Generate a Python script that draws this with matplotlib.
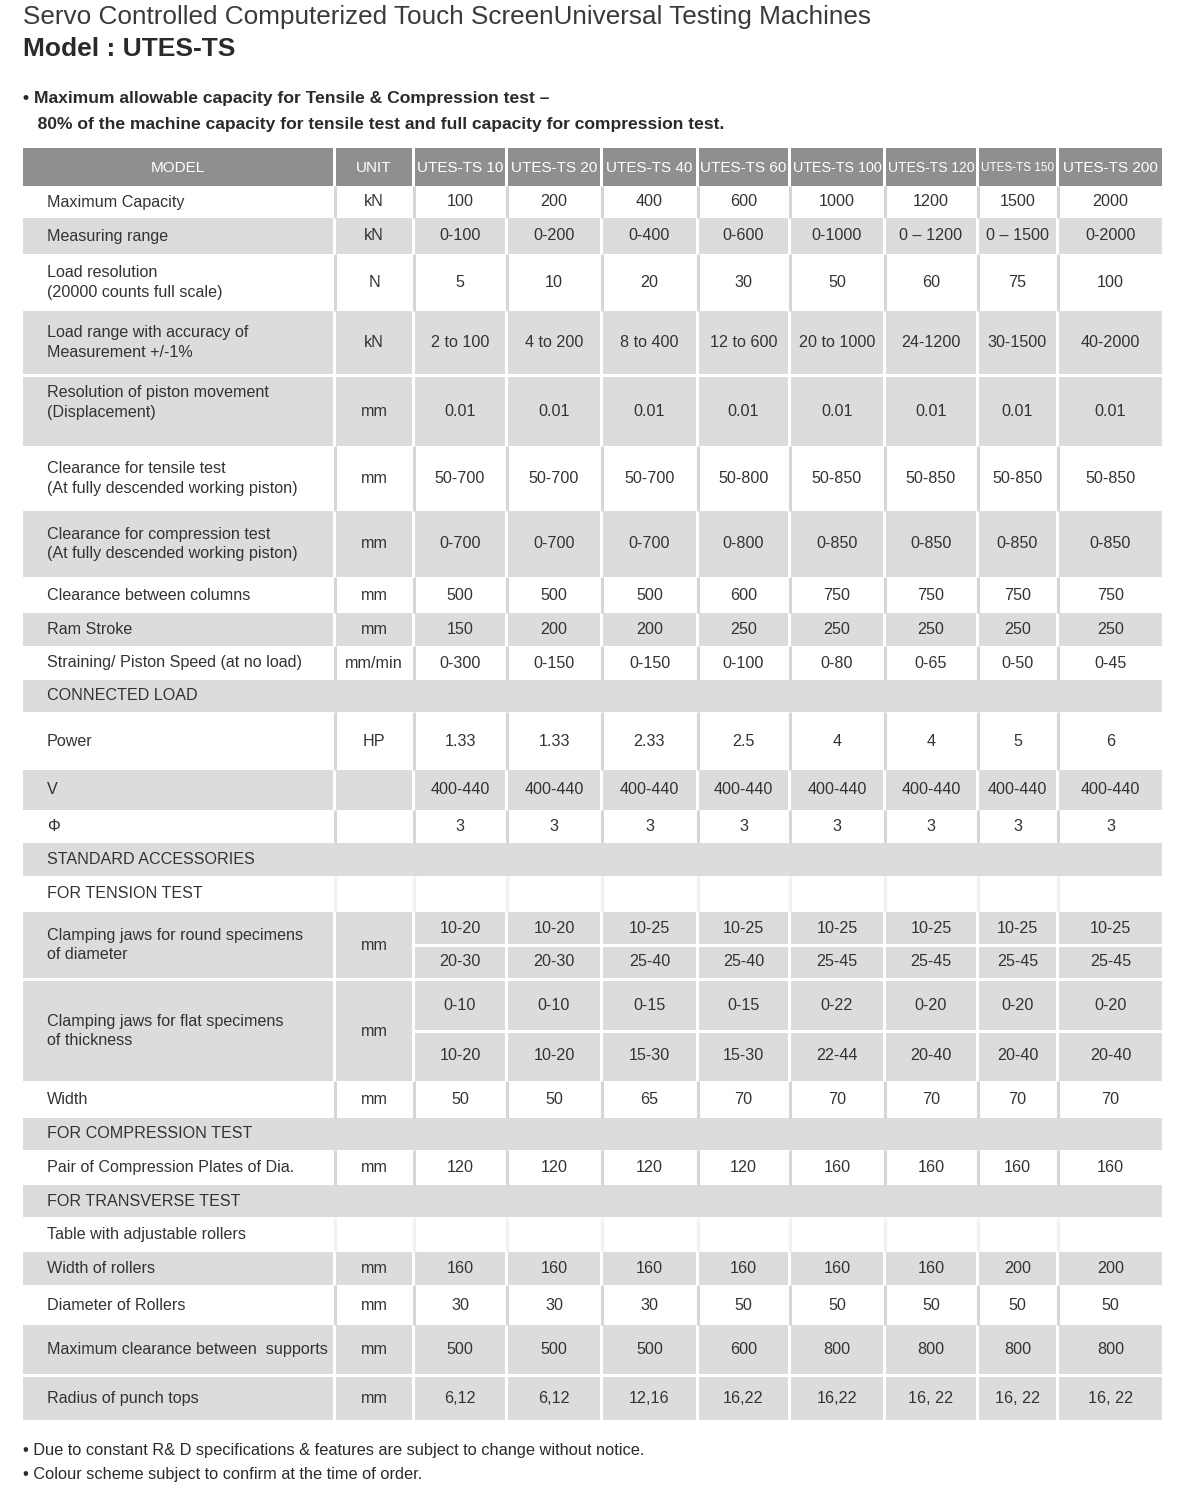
"""Spec sheet table: UTES-TS servo controlled universal testing machines."""

import matplotlib

matplotlib.use("Agg")
import matplotlib.pyplot as plt
from matplotlib.patches import Rectangle

plt.rcParams["font.family"] = ["Liberation Sans", "DejaVu Sans"]

TITLE = "Servo Controlled Computerized Touch ScreenUniversal Testing Machines"
SUBTITLE = "Model : UTES-TS"
NOTE_LINES = [
    "\u2022 Maximum allowable capacity for Tensile & Compression test \u2013",
    "   80% of the machine capacity for tensile test and full capacity for compression test.",
]
FOOTER_LINES = [
    "\u2022 Due to constant R& D specifications & features are subject to change without notice.",
    "\u2022 Colour scheme subject to confirm at the time of order.",
]

models = ["UTES-TS 10", "UTES-TS 20", "UTES-TS 40", "UTES-TS 60",
          "UTES-TS 100", "UTES-TS 120", "UTES-TS 150", "UTES-TS 200"]

max_capacity = ["100", "200", "400", "600", "1000", "1200", "1500", "2000"]
measuring_range = ["0-100", "0-200", "0-400", "0-600", "0-1000",
                   "0 \u2013 1200", "0 \u2013 1500", "0-2000"]
load_resolution = ["5", "10", "20", "30", "50", "60", "75", "100"]
accuracy_range = ["2 to 100", "4 to 200", "8 to 400", "12 to 600",
                  "20 to 1000", "24-1200", "30-1500", "40-2000"]
piston_resolution = ["0.01", "0.01", "0.01", "0.01", "0.01", "0.01", "0.01", "0.01"]
tensile_clearance = ["50-700", "50-700", "50-700", "50-800",
                     "50-850", "50-850", "50-850", "50-850"]
compression_clearance = ["0-700", "0-700", "0-700", "0-800",
                         "0-850", "0-850", "0-850", "0-850"]
column_clearance = ["500", "500", "500", "600", "750", "750", "750", "750"]
ram_stroke = ["150", "200", "200", "250", "250", "250", "250", "250"]
piston_speed = ["0-300", "0-150", "0-150", "0-100", "0-80", "0-65", "0-50", "0-45"]
power_hp = ["1.33", "1.33", "2.33", "2.5", "4", "4", "5", "6"]
voltage = ["400-440", "400-440", "400-440", "400-440",
           "400-440", "400-440", "400-440", "400-440"]
phase = ["3", "3", "3", "3", "3", "3", "3", "3"]
round_jaws_small = ["10-20", "10-20", "10-25", "10-25", "10-25", "10-25", "10-25", "10-25"]
round_jaws_large = ["20-30", "20-30", "25-40", "25-40", "25-45", "25-45", "25-45", "25-45"]
flat_jaws_thin = ["0-10", "0-10", "0-15", "0-15", "0-22", "0-20", "0-20", "0-20"]
flat_jaws_thick = ["10-20", "10-20", "15-30", "15-30", "22-44", "20-40", "20-40", "20-40"]
jaw_width = ["50", "50", "65", "70", "70", "70", "70", "70"]
compression_plates = ["120", "120", "120", "120", "160", "160", "160", "160"]
roller_width = ["160", "160", "160", "160", "160", "160", "200", "200"]
roller_diameter = ["30", "30", "30", "50", "50", "50", "50", "50"]
support_clearance = ["500", "500", "500", "600", "800", "800", "800", "800"]
punch_radius = ["6,12", "6,12", "12,16", "16,22", "16,22", "16, 22", "16, 22", "16, 22"]

# (kind, label, unit, values, top, bottom, shaded)
rows = [
    ("row", "Maximum Capacity", "kN", max_capacity, 186, 218, False),
    ("row", "Measuring range", "kN", measuring_range, 218, 254, True),
    ("row", "Load resolution\n(20000 counts full scale)", "N", load_resolution, 254, 311, False),
    ("row", "Load range with accuracy of\nMeasurement +/-1%", "kN", accuracy_range, 311, 374, True),
    ("row", "Resolution of piston movement\n(Displacement)", "mm", piston_resolution, 377, 446, True),
    ("row", "Clearance for tensile test\n(At fully descended working piston)", "mm",
     tensile_clearance, 446, 511, False),
    ("row", "Clearance for compression test\n(At fully descended working piston)", "mm",
     compression_clearance, 511, 577, True),
    ("row", "Clearance between columns", "mm", column_clearance, 577, 613, False),
    ("row", "Ram Stroke", "mm", ram_stroke, 613, 646, True),
    ("row", "Straining/ Piston Speed (at no load)", "mm/min", piston_speed, 646, 680, False),
    ("section", "CONNECTED LOAD", "", None, 680, 712, True),
    ("row", "Power", "HP", power_hp, 712, 770, False),
    ("row", "V", "", voltage, 770, 810, True),
    ("row", "\u03a6", "", phase, 810, 843, False),
    ("section", "STANDARD ACCESSORIES", "", None, 843, 876, True),
    ("section", "FOR TENSION TEST", "", None, 876, 912, False),
    ("split", "Clamping jaws for round specimens\nof diameter", "mm",
     (round_jaws_small, round_jaws_large), 912, 978, True),
    ("split", "Clamping jaws for flat specimens\nof thickness", "mm",
     (flat_jaws_thin, flat_jaws_thick), 981, 1081, True),
    ("row", "Width", "mm", jaw_width, 1081, 1118, False),
    ("section", "FOR COMPRESSION TEST", "", None, 1118, 1150, True),
    ("row", "Pair of Compression Plates of Dia.", "mm", compression_plates, 1150, 1185, False),
    ("section", "FOR TRANSVERSE TEST", "", None, 1185, 1217, True),
    ("section", "Table with adjustable rollers", "", None, 1217, 1252, False),
    ("row", "Width of rollers", "mm", roller_width, 1252, 1285, True),
    ("row", "Diameter of Rollers", "mm", roller_diameter, 1285, 1325, False),
    ("row", "Maximum clearance between  supports", "mm", support_clearance, 1325, 1374, True),
    ("row", "Radius of punch tops", "mm", punch_radius, 1377, 1420, True),
]

# cell edges in pixels: model, unit, then the eight machines
col_left = [23, 336, 415, 508, 603, 699, 791, 886, 979, 1059]
col_right = [333, 412, 505, 600, 696, 788, 883, 976, 1056, 1162]
split_at = {912: 945, 981: 1031}

HEADER_TOP, HEADER_BOTTOM = 148, 186
SHADE = "#dcdcdd"
HEADER = "#8f8f8f"
RULE = "#d6d6d6"
INK = "#333333"
LABEL_X = 47
FS = 11.6

fig = plt.figure(figsize=(11.84, 15), dpi=100)
ax = fig.add_axes([0, 0, 1, 1])
ax.set_xlim(0, 1184)
ax.set_ylim(1500, 0)
ax.axis("off")


def cell(x0, x1, y0, y1, color):
    ax.add_patch(Rectangle((x0, y0), x1 - x0, y1 - y0, facecolor=color,
                           edgecolor="none", zorder=1))


def rules(y0, y1, color):
    for r, l in zip(col_right[:-1], col_left[1:]):
        xm = (r + l) / 2
        ax.plot([xm, xm], [y0, y1], color=color, lw=2.2, solid_capstyle="butt", zorder=2)


ax.text(23, 17, TITLE, fontsize=18.8, color="#3a3a3a", va="center", ha="left")
ax.text(23, 49, SUBTITLE, fontsize=19, color="#2a2a2a", va="center", ha="left",
        fontweight="bold")
for i, line in enumerate(NOTE_LINES):
    ax.text(23, 99 + 25 * i, line, fontsize=12.6, color="#2a2a2a", va="center",
            ha="left", fontweight="bold")

# header
renderer = fig.canvas.get_renderer()
headers = ["MODEL", "UNIT"] + models
for x0, x1, name in zip(col_left, col_right, headers):
    cell(x0, x1, HEADER_TOP, HEADER_BOTTOM, HEADER)
    t = ax.text((x0 + x1) / 2, (HEADER_TOP + HEADER_BOTTOM) / 2 + 1, name,
                fontsize=11, color="white", ha="center", va="center", zorder=3)
    size = 11
    while t.get_window_extent(renderer).width > (x1 - x0) - 2 and size > 8:
        size -= 0.25
        t.set_fontsize(size)

for kind, label, unit, values, top, bottom, shaded in rows:
    mid = (top + bottom) / 2
    if kind == "section":
        if shaded:
            cell(col_left[0], col_right[-1], top, bottom, SHADE)
        else:
            rules(top, bottom, "#f2f2f2")
        ax.text(LABEL_X, mid, label, fontsize=FS, color=INK, va="center", ha="left", zorder=3)
        continue

    if kind == "split":
        cut = split_at[top]
        cell(col_left[0], col_right[0], top, bottom, SHADE)
        cell(col_left[1], col_right[1], top, bottom, SHADE)
        for j, (x0, x1) in enumerate(zip(col_left[2:], col_right[2:])):
            cell(x0, x1, top, cut - 1.5, SHADE)
            cell(x0, x1, cut + 1.5, bottom, SHADE)
            ax.text((x0 + x1) / 2, (top + cut) / 2, values[0][j], fontsize=FS,
                    color=INK, ha="center", va="center", zorder=3)
            ax.text((x0 + x1) / 2, (cut + bottom) / 2, values[1][j], fontsize=FS,
                    color=INK, ha="center", va="center", zorder=3)
    else:
        if shaded:
            for x0, x1 in zip(col_left, col_right):
                cell(x0, x1, top, bottom, SHADE)
        else:
            rules(top, bottom, RULE)
        for j, (x0, x1) in enumerate(zip(col_left[2:], col_right[2:])):
            ax.text((x0 + x1) / 2, mid, values[j], fontsize=FS, color=INK,
                    ha="center", va="center", zorder=3)

    label_y = mid - 9 if label.startswith("Resolution of piston") else mid
    ax.text(LABEL_X, label_y, label, fontsize=FS, color=INK, va="center", ha="left",
            linespacing=1.4, zorder=3)
    ax.text((col_left[1] + col_right[1]) / 2, mid, unit, fontsize=FS, color=INK,
            ha="center", va="center", zorder=3)

for i, line in enumerate(FOOTER_LINES):
    ax.text(23, 1451 + 23 * i, line, fontsize=11.8, color="#2a2a2a", va="center", ha="left")

fig.savefig("out.png", dpi=100, facecolor="white")
plt.close(fig)
